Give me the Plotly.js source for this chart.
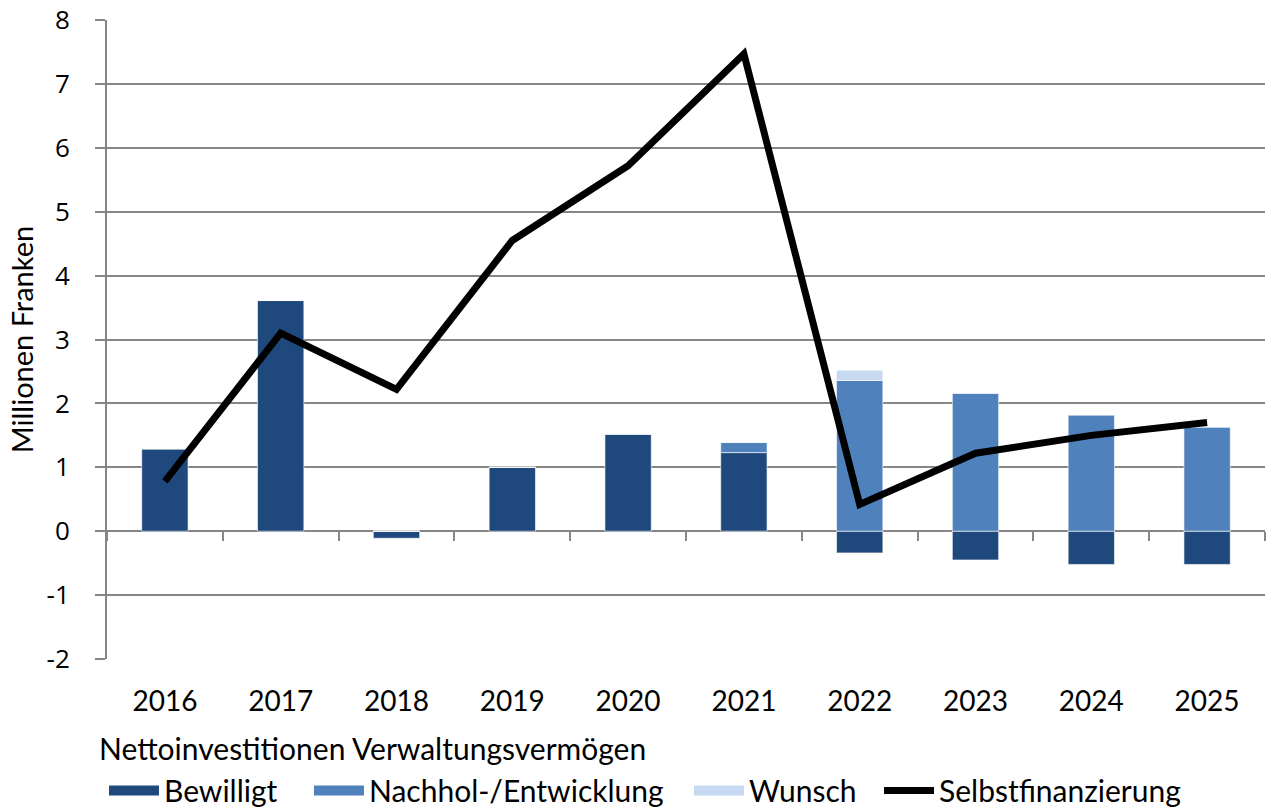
<!DOCTYPE html>
<html>
<head>
<meta charset="utf-8">
<script src="https://cdn.plot.ly/plotly-3.0.1.min.js"></script>
<style>html,body{margin:0;padding:0;background:#fff;}#chart{width:1272px;height:812px;}</style>
</head>
<body>
<div id="chart"></div>
<script>
const years = ['2016','2017','2018','2019','2020','2021','2022','2023','2024','2025'];
const bewilligt = [1.29, 3.61, -0.11, 1.0, 1.52, 1.23, -0.34, -0.45, -0.52, -0.52];
const nachhol = [0, 0, 0, 0, 0, 0.16, 2.36, 2.16, 1.82, 1.63];
const wunsch = [0, 0, 0, 0, 0, 0, 0.16, 0, 0, 0];
const selbstfinanzierung = [0.78, 3.1, 2.22, 4.55, 5.72, 7.47, 0.42, 1.22, 1.5, 1.7];
const yTicks = [-2, -1, 0, 1, 2, 3, 4, 5, 6, 7, 8];
const seriesNames = ['Bewilligt', 'Nachhol-/Entwicklung', 'Wunsch', 'Selbstfinanzierung'];
const seriesColors = ['#1F497D', '#4F81BD', '#C6D9F1', '#000000'];

const textFont = 'Lato, "Liberation Sans", sans-serif';
const barLine = {color: 'rgba(255,255,255,0.6)', width: 1};
const barData = [bewilligt, nachhol, wunsch];
const legendIds = ['legend', 'legend2', 'legend3', 'legend4'];
const legendX = [-0.0026, 0.1744, 0.5026, 0.6667];

const traces = [];
barData.forEach((vals, i) => {
  traces.push({type: 'bar', name: seriesNames[i], x: years, y: vals, showlegend: false,
    legendgroup: seriesNames[i], marker: {color: seriesColors[i], line: barLine}, xaxis: 'x', yaxis: 'y'});
});
// legend swatches (wide rectangles) for the bar series
barData.forEach((vals, i) => {
  traces.push({type: 'scatter', mode: 'lines', name: seriesNames[i], x: [null], y: [null],
    legendgroup: seriesNames[i], legend: legendIds[i], line: {color: seriesColors[i], width: 20},
    hoverinfo: 'skip', xaxis: 'x', yaxis: 'y'});
});
traces.push({type: 'scatter', mode: 'lines', name: seriesNames[3], x: years, y: selbstfinanzierung,
  legendgroup: seriesNames[3], legend: legendIds[3], line: {color: seriesColors[3], width: 7},
  xaxis: 'x2', yaxis: 'y'});

const layout = {
  width: 1272, height: 812,
  margin: {l: 107, r: 7, t: 20, b: 153},
  paper_bgcolor: '#ffffff', plot_bgcolor: '#ffffff',
  barmode: 'relative',
  bargap: 0.6,
  showlegend: true,
  xaxis: {
    type: 'category', categoryarray: years, range: [-0.5, 9.5],
    showgrid: false, showline: false, zeroline: false, ticks: '',
    tickfont: {family: textFont, size: 28, color: '#000'},
    ticklabelstandoff: 23
  },
  xaxis2: {
    type: 'category', categoryarray: years, range: [-0.5, 9.5],
    overlaying: 'x', anchor: 'free', position: 0.2,
    showgrid: false, showline: false, zeroline: false, showticklabels: false,
    ticks: 'outside', tickson: 'boundaries', ticklen: 9, tickwidth: 2, tickcolor: '#868686'
  },
  yaxis: {
    range: [-2, 8], tickvals: yTicks, ticktext: yTicks.map(String),
    showgrid: true, gridcolor: '#868686', gridwidth: 2,
    zeroline: true, zerolinecolor: '#868686', zerolinewidth: 2,
    showline: true, linecolor: '#868686', linewidth: 2,
    ticks: 'outside', ticklen: 10, tickwidth: 2, tickcolor: '#868686',
    ticklabelstandoff: 20,
    tickfont: {family: '"Open Sans", sans-serif', size: 26, color: '#000'},
    title: {text: 'Millionen Franken', font: {family: textFont, size: 29, color: '#000'}, standoff: 4}
  },
  annotations: [{
    text: 'Nettoinvestitionen Verwaltungsvermögen', showarrow: false,
    xref: 'paper', yref: 'paper', x: -0.009, xanchor: 'left', y: -0.139, yanchor: 'middle',
    font: {family: textFont, size: 30, color: '#000'}
  }]
};
legendIds.forEach((id, i) => {
  layout[id] = {
    orientation: 'h', x: legendX[i], xanchor: 'left', yref: 'container', y: 0.0265, yanchor: 'middle',
    font: {family: textFont, size: 30, color: '#000'}, itemwidth: 50, bgcolor: 'rgba(0,0,0,0)'
  };
});

Plotly.newPlot('chart', traces, layout, {displayModeBar: false});
</script>
</body>
</html>
